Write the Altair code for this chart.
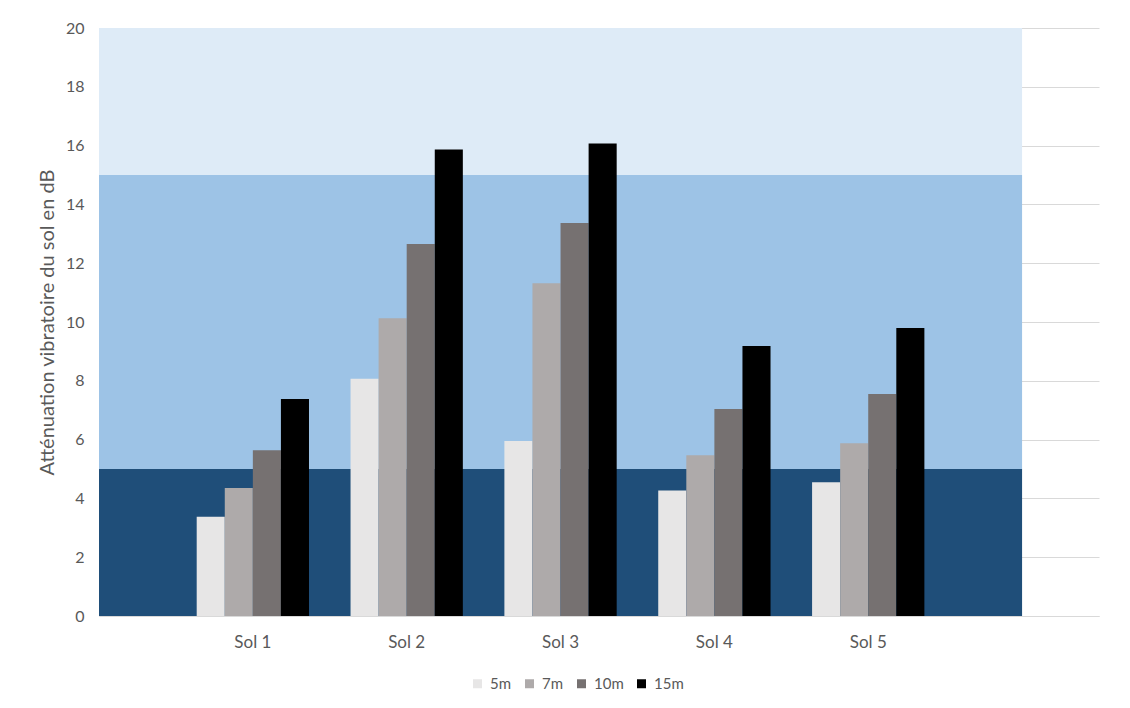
import altair as alt
import pandas as pd

# ---- data ----
sols = ["Sol 1", "Sol 2", "Sol 3", "Sol 4", "Sol 5"]
dists = ["5m", "7m", "10m", "15m"]
v5 = [3.38, 8.07, 5.95, 4.27, 4.55]
v7 = [4.35, 10.13, 11.32, 5.47, 5.88]
v10 = [5.64, 12.65, 13.37, 7.04, 7.55]
v15 = [7.38, 15.87, 16.07, 9.18, 9.80]
bar_colors = ["#E7E6E6", "#AEAAAA", "#767171", "#000000"]

# background zones (dB ranges)
zone_lo = [0, 5, 15]
zone_hi = [5, 15, 20]
zone_colors = ["#1F4E79", "#9DC3E6", "#DEEBF7"]
# horizontal extent of zones, in category-slot units (axis spans 6.5 slots)
zone_x0 = [0, 0, 0]
zone_x1 = [6, 6, 6]
slot_domain = [0, 6.5]

y_ticks = [0, 2, 4, 6, 8, 10, 12, 14, 16, 18, 20]

rows = []
for series, vals in zip(dists, [v5, v7, v10, v15]):
    for s, v in zip(sols, vals):
        rows.append({"sol": s, "dist": series, "val": v})
df = pd.DataFrame(rows)

zones = pd.DataFrame({"lo": zone_lo, "hi": zone_hi, "c": zone_colors,
                      "x0": zone_x0, "x1": zone_x1})

gray = "#595959"
grid = "#D9D9D9"

y_axis = alt.Axis(title="Atténuation vibratoire du sol en dB", values=y_ticks,
                  grid=True, gridColor=grid, gridWidth=1, domain=False, ticks=False,
                  labelFontSize=16, labelColor=gray, labelPadding=15,
                  titleFontSize=20, titleColor=gray, titleFontWeight="normal",
                  titleX=-52, titleY=294, titleAngle=-90, titleBaseline="middle",
                  titleAlign="center")
y_scale = alt.Scale(domain=[0, 20], nice=False, zero=True)

band_layer = alt.Chart(zones).mark_rect().encode(
    x=alt.X("x0:Q", scale=alt.Scale(domain=slot_domain, nice=False, zero=False), axis=None),
    x2="x1:Q",
    y=alt.Y("lo:Q", scale=y_scale, axis=y_axis),
    y2="hi:Q",
    color=alt.Color("c:N", scale=None),
)

bar_layer = alt.Chart(df).mark_bar().encode(
    x=alt.X("sol:N", sort=sols,
            scale=alt.Scale(domain=sols, paddingInner=0, paddingOuter=0.75, align=1 / 3),
            axis=alt.Axis(title=None, labelAngle=0, ticks=False, domain=True,
                          domainColor=grid, domainWidth=1, grid=False,
                          labelFontSize=17, labelColor=gray, labelPadding=18, zindex=1)),
    xOffset=alt.XOffset("dist:N", sort=dists,
                        scale=alt.Scale(domain=dists, paddingInner=0, paddingOuter=0.74)),
    y=alt.Y("val:Q", scale=y_scale, axis=y_axis),
    color=alt.Color("dist:N", sort=dists,
                    scale=alt.Scale(domain=dists, range=bar_colors),
                    legend=alt.Legend(title=None, orient="none", direction="horizontal",
                                      legendX=371, legendY=648, symbolType="square",
                                      symbolSize=81, symbolStrokeWidth=0,
                                      labelFontSize=15, labelColor=gray, labelOffset=5,
                                      columnPadding=10, padding=0)),
)

chart = alt.layer(band_layer, bar_layer).resolve_scale(
    x="independent", color="independent"
).properties(
    width=1000, height=588, autosize="none",
    padding={"left": 91, "top": 20, "right": 22, "bottom": 90},
).configure(font="Lato").configure_view(strokeWidth=0)

chart.save("out.html", embed_options={"renderer": "svg", "actions": False})
